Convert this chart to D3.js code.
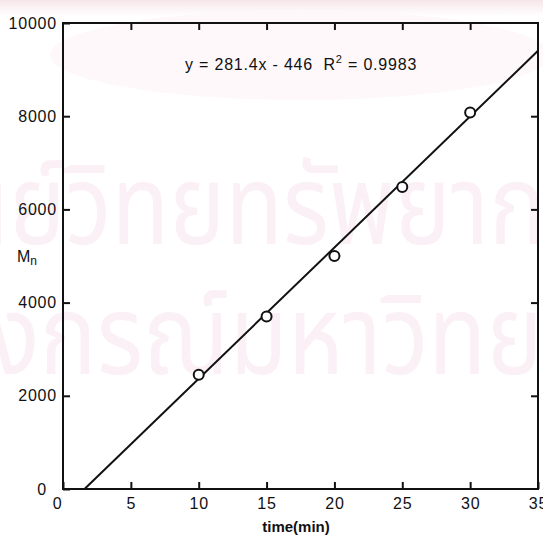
<!DOCTYPE html>
<html>
<head>
<meta charset="utf-8">
<script src="https://cdn.jsdelivr.net/npm/d3@7"></script>
<style>
  html, body { margin: 0; padding: 0; background: #fff; }
  svg { display: block; }
  .tick text { font-family: "Liberation Sans", Arial, sans-serif; font-size: 16px; letter-spacing: 0.8px; fill: #111; }
  .tick line { stroke: #111; stroke-width: 2; }
</style>
</head>
<body>
<svg id="chart" width="543" height="536"></svg>
<script>
// data
const times = [10, 15, 20, 25, 30];
const mnValues = [2450, 3700, 5000, 6480, 8080];

// linear fit printed on the chart
const slope = 281.4;
const intercept = -446;
const r2 = '0.9983';

const xTicks = [0, 5, 10, 15, 20, 25, 30, 35];
const yTicks = [0, 2000, 4000, 6000, 8000, 10000];

const width = 543, height = 536;
const margin = { top: 23, right: 3, bottom: 47, left: 63 };

const svg = d3.select('#chart');

// faint scan background: pink band and watermark
const defs = svg.append('defs');
const grad = defs.append('linearGradient')
    .attr('id', 'topBand')
    .attr('x1', 0).attr('y1', 0).attr('x2', 0).attr('y2', 1);
grad.append('stop').attr('offset', '0%').attr('stop-color', '#f6e6ea');
grad.append('stop').attr('offset', '100%').attr('stop-color', '#ffffff');

svg.append('rect')
    .attr('width', width).attr('height', 16)
    .attr('fill', 'url(#topBand)');

svg.append('ellipse')
    .attr('cx', 300).attr('cy', 55)
    .attr('rx', 250).attr('ry', 45)
    .attr('fill', '#fef8fa');

const watermark = svg.append('g')
    .attr('fill', '#faf0f5')
    .attr('font-family', '"Noto Sans Thai", "Noto Sans", "DejaVu Sans", sans-serif')
    .attr('font-size', 110);

watermark.append('text')
    .attr('x', -108).attr('y', 244)
    .attr('textLength', 700)
    .attr('lengthAdjust', 'spacingAndGlyphs')
    .text('ศูนย์วิทยทรัพยากร');

watermark.append('text')
    .attr('x', -218).attr('y', 374)
    .attr('textLength', 910)
    .attr('lengthAdjust', 'spacingAndGlyphs')
    .text('จุฬาลงกรณ์มหาวิทยาลัย');

// scales
const x = d3.scaleLinear()
    .domain([0, 35])
    .range([margin.left, width - margin.right - 2]);

const y = d3.scaleLinear()
    .domain([0, 10000])
    .range([height - margin.bottom, margin.top]);

const tickLen = 7;
const fmt = d3.format('d');

// bottom axis with labels
svg.append('g')
    .attr('transform', `translate(0,${y(0)})`)
    .call(d3.axisBottom(x).tickValues(xTicks).tickFormat(fmt).tickSizeInner(-tickLen).tickSizeOuter(0).tickPadding(9))
    .call(g => g.select('.domain').remove())
    .call(g => g.selectAll('.tick').filter(d => d === 0).select('text').attr('dx', -6));

// left axis with labels
svg.append('g')
    .attr('transform', `translate(${x(0)},0)`)
    .call(d3.axisLeft(y).tickValues(yTicks).tickFormat(fmt).tickSizeInner(-tickLen).tickSizeOuter(0).tickPadding(6))
    .call(g => g.select('.domain').remove())
    .call(g => g.selectAll('.tick').filter(d => d === 0).select('text').attr('dx', -10));

// top and right ticks, no labels
svg.append('g')
    .attr('transform', `translate(0,${y(10000)})`)
    .call(d3.axisTop(x).tickValues(xTicks.slice(1, -1)).tickSizeInner(-tickLen).tickSizeOuter(0).tickFormat(''))
    .call(g => g.select('.domain').remove());

svg.append('g')
    .attr('transform', `translate(${x(35)},0)`)
    .call(d3.axisRight(y).tickValues(yTicks.slice(1, -1)).tickSizeInner(-tickLen).tickSizeOuter(0).tickFormat(''))
    .call(g => g.select('.domain').remove());

// frame
svg.append('rect')
    .attr('x', x(0)).attr('y', y(10000))
    .attr('width', x(35) - x(0))
    .attr('height', y(0) - y(10000))
    .attr('fill', 'none')
    .attr('stroke', '#111')
    .attr('stroke-width', 2);

// fit line, from where it crosses zero to the right edge
const fitStart = -intercept / slope;
const fitLine = d3.line()
    .x(d => x(d))
    .y(d => y(slope * d + intercept));

svg.append('path')
    .datum([fitStart, 35])
    .attr('d', fitLine)
    .attr('fill', 'none')
    .attr('stroke', '#111')
    .attr('stroke-width', 2);

// data points
svg.append('g')
    .selectAll('circle')
    .data(times.map((t, i) => [t, mnValues[i]]))
    .join('circle')
    .attr('cx', d => x(d[0]))
    .attr('cy', d => y(d[1]))
    .attr('r', 5)
    .attr('fill', '#fff')
    .attr('stroke', '#111')
    .attr('stroke-width', 2);

// equation label
const eq = svg.append('text')
    .attr('x', 185).attr('y', 70)
    .attr('font-family', '"Liberation Sans", Arial, sans-serif')
    .attr('font-size', 16)
    .attr('letter-spacing', 0.8)
    .attr('fill', '#111')
    .style('white-space', 'pre');
eq.append('tspan').text(`y = ${slope}x - ${-intercept}  R`);
eq.append('tspan').attr('dy', -7).attr('font-size', 11).text('2');
eq.append('tspan').attr('dy', 7).text(` = ${r2}`);

// axis titles
const yTitle = svg.append('text')
    .attr('x', 17).attr('y', 262)
    .attr('font-family', '"Liberation Sans", Arial, sans-serif')
    .attr('font-size', 16)
    .attr('fill', '#111');
yTitle.append('tspan').text('M');
yTitle.append('tspan').attr('dy', 3).attr('font-size', 12).text('n');

svg.append('text')
    .attr('x', 296).attr('y', 532)
    .attr('text-anchor', 'middle')
    .attr('font-family', '"Liberation Sans", Arial, sans-serif')
    .attr('font-size', 15)
    .attr('font-weight', 'bold')
    .attr('fill', '#111')
    .text('time(min)');
</script>
</body>
</html>
